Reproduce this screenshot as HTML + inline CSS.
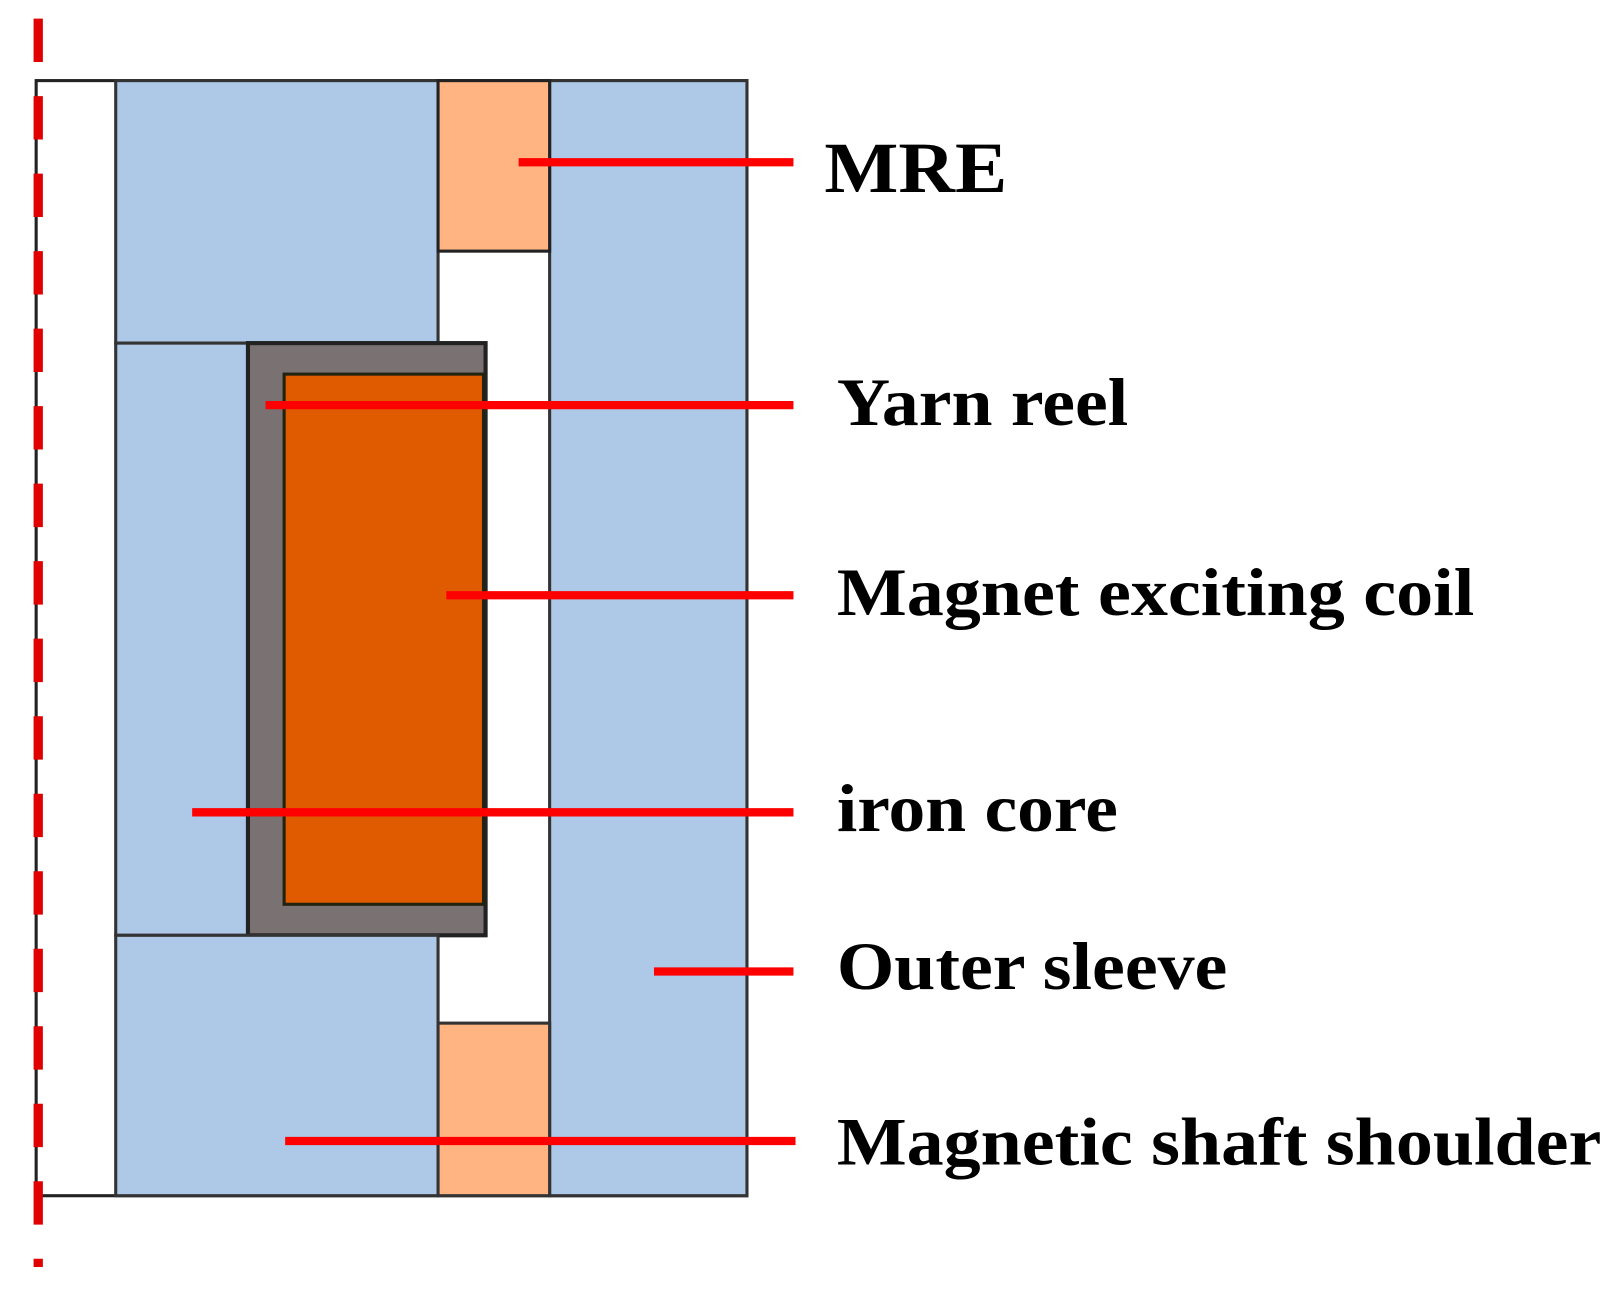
<!DOCTYPE html>
<html><head><meta charset="utf-8"><style>
html,body{margin:0;padding:0;background:#fff;}
svg{display:block;}
text{font-family:"Liberation Serif",serif;font-weight:bold;fill:#000;}
</style></head><body>
<svg width="1621" height="1297" viewBox="0 0 1569 1255" preserveAspectRatio="none" xmlns="http://www.w3.org/2000/svg">
<rect x="0" y="0" width="1569" height="1255" fill="#fff"/>
<rect x="35" y="78" width="688" height="1079" fill="#fff" stroke="#222" stroke-width="3"/>
<rect x="532" y="78" width="191" height="1079" fill="#aec8e8" stroke="#333" stroke-width="3"/>
<rect x="112" y="78" width="312" height="254" fill="#aec8e8" stroke="#333" stroke-width="3"/>
<rect x="424" y="78" width="108" height="165" fill="#ffb482" stroke="#222" stroke-width="3"/>
<rect x="112" y="332" width="128" height="573" fill="#aec8e8" stroke="#333" stroke-width="3"/>
<rect x="240" y="332" width="230" height="573" fill="#7a7272" stroke="#222" stroke-width="4"/>
<rect x="275" y="362" width="193" height="513" fill="#e05a00" stroke="#221" stroke-width="3"/>
<rect x="112" y="905" width="312" height="252" fill="#aec8e8" stroke="#333" stroke-width="3"/>
<rect x="424" y="990" width="108" height="167" fill="#ffb482" stroke="#333" stroke-width="3"/>
<line x1="37" y1="18" x2="37" y2="1226" stroke="#e00000" stroke-width="9" stroke-dasharray="42 33"/>
<g stroke="#ff0000" stroke-width="8">
<line x1="502" y1="157" x2="768" y2="157"/>
<line x1="257" y1="392" x2="768" y2="392"/>
<line x1="432" y1="576" x2="768" y2="576"/>
<line x1="186" y1="786" x2="768" y2="786"/>
<line x1="633" y1="940" x2="768" y2="940"/>
<line x1="276" y1="1104" x2="770" y2="1104"/>
</g>
<text x="798" y="186" font-size="70" textLength="177" lengthAdjust="spacingAndGlyphs">MRE</text>
<text x="810" y="411" font-size="66" textLength="282" lengthAdjust="spacingAndGlyphs">Yarn reel</text>
<text x="810" y="595" font-size="66" textLength="617" lengthAdjust="spacingAndGlyphs">Magnet exciting coil</text>
<text x="810" y="804" font-size="66" textLength="272" lengthAdjust="spacingAndGlyphs">iron core</text>
<text x="810" y="957" font-size="66" textLength="378" lengthAdjust="spacingAndGlyphs">Outer sleeve</text>
<text x="810" y="1127" font-size="66" textLength="740" lengthAdjust="spacingAndGlyphs">Magnetic shaft shoulder</text>
</svg>
</body></html>
